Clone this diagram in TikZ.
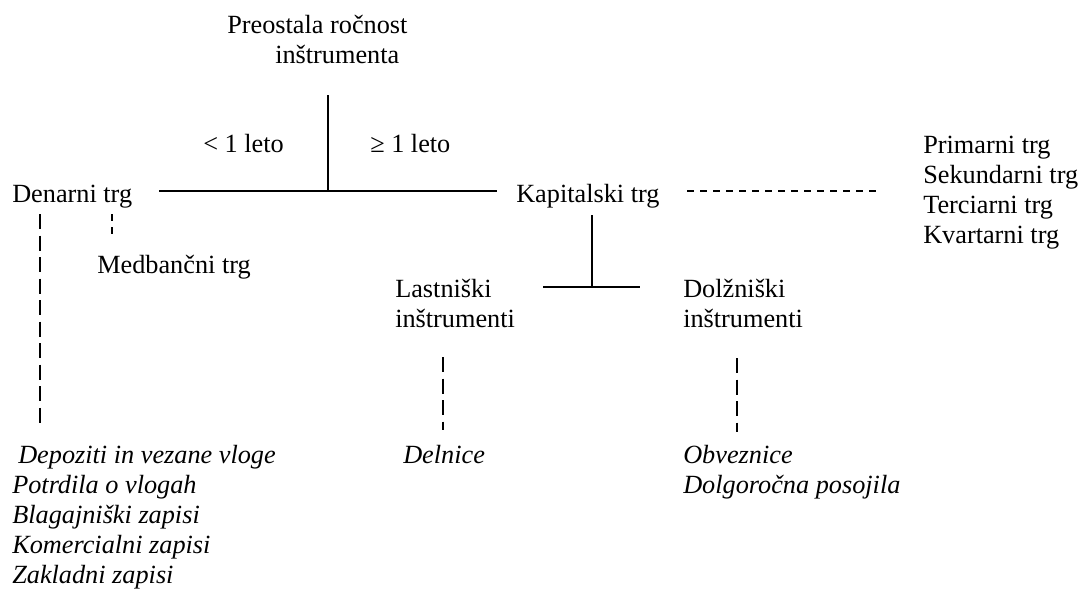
\documentclass[tikz,border=0pt]{standalone}
\usepackage{fontspec}
\setmainfont{Liberation Serif}
\newcommand\blk[1]{\begin{tabular}[t]{@{}l@{}}#1\end{tabular}}
\begin{document}
\begin{tikzpicture}[x=0.75pt,y=-0.75pt,
  txt/.style={inner sep=0pt,anchor=base west,font=\fontsize{19.7pt}{22.5pt}\selectfont},
  solidln/.style={line width=1.4pt},
  longdash/.style={line width=1.3pt,dash pattern=on 11.25pt off 4.9pt},
  shortdash/.style={line width=1.3pt,dash pattern=on 5.25pt off 4.5pt}]
\useasboundingbox (0,0) rectangle (1082,593);
% texts
\node[txt] (root) at (227,33) {\blk{Preostala ročnost\\\hspace*{36pt}inštrumenta}};
\node[txt] (lt) at (203,152) {< 1 leto};
\node[txt] (ge) at (370,152) {≥ 1 leto};
\node[txt] (den) at (12,202) {Denarni trg};
\node[txt] (kap) at (516,202) {Kapitalski trg};
\node[txt] (sec) at (923,153) {\blk{Primarni trg\\Sekundarni trg\\Terciarni trg\\Kvartarni trg}};
\node[txt] (med) at (97,273) {Medbančni trg};
\node[txt] (last) at (395,297) {\blk{Lastniški\\inštrumenti}};
\node[txt] (dolz) at (683,297) {\blk{Dolžniški\\inštrumenti}};
\node[txt] (mm) at (12,463) {\blk{\itshape\hspace*{4.5pt}Depoziti in vezane vloge\\\itshape Potrdila o vlogah\\\itshape Blagajniški zapisi\\\itshape Komercialni zapisi\\\itshape Zakladni zapisi}};
\node[txt] (deln) at (403,463) {\itshape Delnice};
\node[txt] (obv) at (683,463) {\blk{\itshape Obveznice\\\itshape Dolgoročna posojila}};
% connector end points
\coordinate (rt) at (328,95);
\coordinate (jr) at (328,191);
\coordinate (hl) at (159,191);
\coordinate (hr) at (497,191);
\coordinate (kd1) at (687,191);
\coordinate (kd2) at (877,191);
\coordinate (dd1) at (40,214);
\coordinate (dd2) at (40,428);
\coordinate (md1) at (112,214);
\coordinate (md2) at (112,235);
\coordinate (kt) at (592,215);
\coordinate (kj) at (592,287);
\coordinate (kl) at (543,287);
\coordinate (kr) at (640,287);
\coordinate (ld1) at (443,357);
\coordinate (ld2) at (443,430);
\coordinate (od1) at (737,358);
\coordinate (od2) at (737,432);
% connectors
\draw[solidln] (rt) -- (jr);
\draw[solidln] (hl) -- (hr);
\draw[solidln] (kt) -- (kj);
\draw[solidln] (kl) -- (kr);
\draw[shortdash] (kd1) -- (kd2);
\draw[shortdash] (md1) -- (md2);
\draw[longdash] (dd1) -- (dd2);
\draw[longdash] (ld1) -- (ld2);
\draw[longdash] (od1) -- (od2);
\end{tikzpicture}
\end{document}
